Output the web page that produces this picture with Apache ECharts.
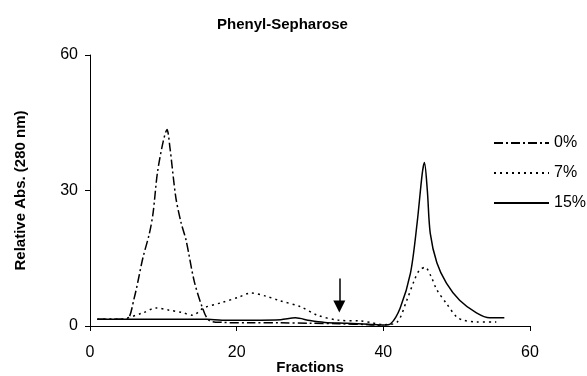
<!DOCTYPE html>
<html>
<head>
<meta charset="utf-8">
<script src="https://cdn.jsdelivr.net/npm/echarts@6/dist/echarts.min.js"></script>
<style>
  html, body { margin: 0; padding: 0; background: #fff; }
  #chart { width: 587px; height: 376px; }
</style>
</head>
<body>
<div id="chart"></div>
<script>
// fractions / relative absorbance
const frac0 = [1, 3, 5, 6, 7.2, 8.1, 8.6, 9.2, 10, 10.5, 10.9, 11.7, 12.4, 13.1, 14.2, 15.3, 16.2, 18, 22, 26, 30, 34, 38, 40]
const abs0 = [1.5, 1.5, 1.5, 6, 15, 20.5, 25, 34, 41, 43.5, 39.5, 28.5, 23, 19, 10, 4.2, 1.3, 0.8, 0.7, 0.7, 0.6, 0.5, 0.3, 0.1]

const frac7 = [1, 4, 7.2, 9, 10.8, 12.5, 14, 15.5, 18, 20.3, 21.9, 24, 25.7, 28.8, 31, 33.8, 36.9, 38.5, 40, 41.9, 43.2, 44.2, 44.9, 45.7, 46.5, 47.3, 48.6, 50, 50.9, 52.7, 55.4]
const abs7 = [1.5, 1.5, 2.9, 4, 3.5, 3, 2.4, 4, 5.2, 6.4, 7.3, 6.6, 5.7, 4.2, 2.4, 1.3, 1.1, 0.7, 0.3, 0.9, 5.7, 10, 12.3, 13, 11, 8, 5, 2, 1.3, 0.9, 0.9]

const frac15 = [1, 5, 10, 16, 18, 22, 26, 28, 30, 32, 35, 38, 40, 41, 42.3, 43.7, 44.6, 45.3, 45.6, 46, 46.4, 47.3, 48.6, 50.4, 52.7, 54.5, 56.5]
const abs15 = [1.5, 1.5, 1.5, 1.5, 1.3, 1.3, 1.4, 1.8, 1.2, 0.8, 0.6, 0.4, 0.2, 0.5, 4, 11.7, 22.7, 33.7, 36.2, 30, 20.5, 14, 9.5, 5.7, 2.9, 1.8, 1.8]

const seriesNames = ['0%', '7%', '15%']
const xTicks = [0, 20, 40, 60]
const yTicks = [0, 30, 60]
const arrowAt = [[34, 10.5], [34, 4.3]]

const pairs = (xs, ys) => xs.map((x, i) => [x, ys[i]])

const boldText = { fontFamily: 'Liberation Sans', fontSize: 15, fontWeight: 'bold', color: '#000' }

const chart = echarts.init(document.getElementById('chart'))
const option = {
  animation: false,
  color: ['#000', '#000', '#000'],
  title: {
    text: 'Phenyl-Sepharose',
    left: 212,
    top: 12,
    textStyle: boldText
  },
  legend: {
    orient: 'vertical',
    left: 493,
    top: 135,
    padding: 0,
    itemWidth: 55,
    itemHeight: 14,
    itemGap: 14,
    itemStyle: { opacity: 0 },
    data: seriesNames,
    textStyle: { fontFamily: 'Liberation Sans', fontSize: 16, color: '#000' }
  },
  grid: { left: 90, right: 57, top: 55, bottom: 50, outerBoundsMode: 'none', containLabel: false },
  xAxis: {
    type: 'value',
    min: xTicks[0],
    max: xTicks[xTicks.length - 1],
    interval: 20,
    name: 'Fractions',
    nameLocation: 'middle',
    nameGap: 34,
    nameMoveOverlap: false,
    nameTextStyle: boldText,
    axisLine: { lineStyle: { color: '#000', width: 1 } },
    axisTick: { show: true, length: 5, lineStyle: { color: '#000' } },
    axisLabel: { margin: 19, fontFamily: 'Liberation Sans', fontSize: 16, color: '#000' },
    splitLine: { show: false }
  },
  yAxis: {
    type: 'value',
    min: yTicks[0],
    max: yTicks[yTicks.length - 1],
    interval: 30,
    name: 'Relative Abs. (280 nm)',
    nameLocation: 'middle',
    nameGap: 62,
    nameMoveOverlap: false,
    nameTextStyle: boldText,
    axisLine: { show: true, lineStyle: { color: '#000', width: 1 } },
    axisTick: { show: true, length: 5, lineStyle: { color: '#000' } },
    axisLabel: { margin: 12, fontFamily: 'Liberation Sans', fontSize: 16, color: '#000' },
    splitLine: { show: false }
  },
  series: [
    {
      name: seriesNames[0],
      type: 'line',
      symbol: 'none',
      smooth: 0.3,
      lineStyle: { color: '#000', width: 1.5, type: [9, 3, 2, 3] },
      data: pairs(frac0, abs0)
    },
    {
      name: seriesNames[1],
      type: 'line',
      symbol: 'none',
      smooth: 0.3,
      lineStyle: { color: '#000', width: 1.5, type: [2, 4] },
      data: pairs(frac7, abs7),
      markLine: {
        silent: true,
        symbol: ['none', 'triangle'],
        symbolSize: [12, 12],
        label: { show: false },
        lineStyle: { color: '#000', width: 1.5, type: 'solid' },
        data: [[{ coord: arrowAt[0] }, { coord: arrowAt[1] }]]
      }
    },
    {
      name: seriesNames[2],
      type: 'line',
      symbol: 'none',
      smooth: 0.3,
      lineStyle: { color: '#000', width: 1.5, type: 'solid' },
      data: pairs(frac15, abs15)
    }
  ]
}
chart.setOption(option)
</script>
</body>
</html>
